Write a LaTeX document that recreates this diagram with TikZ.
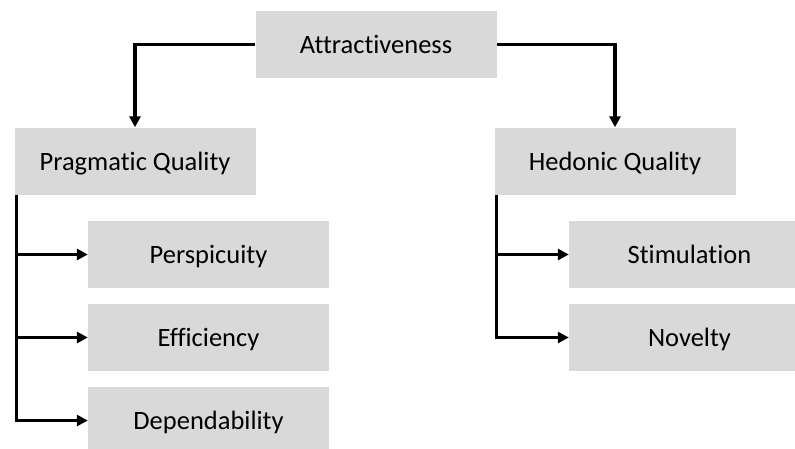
\documentclass[tikz,border=0pt]{standalone}
\usepackage{fontspec}
\setmainfont{Carlito}[RawFeature=-liga]
\usetikzlibrary{arrows.meta}
\definecolor{boxgray}{HTML}{D9D9D9}
\begin{document}
\begin{tikzpicture}[x=1pt,y=-1pt,
  box/.style={fill=boxgray, draw=none, inner sep=0pt, minimum width=241pt,
    minimum height=67pt, text height=19pt, text depth=1pt,
    font=\fontsize{26.5}{30}\selectfont},
  conn/.style={line width=3.2pt, -{Triangle[length=11pt,width=11pt]}}
]
\useasboundingbox (0,0) rectangle (795,448);
\clip (0,0) rectangle (795,448);

\node[box] (A) at (376,44.5) {Attractiveness};
\node[box] (P) at (135,161) {Pragmatic Quality};
\node[box] (H) at (615,161) {Hedonic Quality};
\node[box] (Per) at (208.5,254.5) {Perspicuity};
\node[box] (Eff) at (208.5,337.5) {Efficiency};
\node[box] (Dep) at (208.5,420.5) {Dependability};
\node[box] (Sti) at (689.5,254.5) {Stimulation};
\node[box] (Nov) at (689.5,337.5) {Novelty};

\draw[conn] (A.west) -| (P.north);
\draw[conn] (A.east) -| (H.north);

\coordinate (pl) at ([xshift=2pt]P.south west);
\coordinate (hl) at ([xshift=2pt]H.south west);

\draw[conn] (pl) |- (Per.west);
\draw[conn] (pl) |- (Eff.west);
\draw[conn] (pl) |- (Dep.west);
\draw[conn] (hl) |- (Sti.west);
\draw[conn] (hl) |- (Nov.west);
\end{tikzpicture}
\end{document}
